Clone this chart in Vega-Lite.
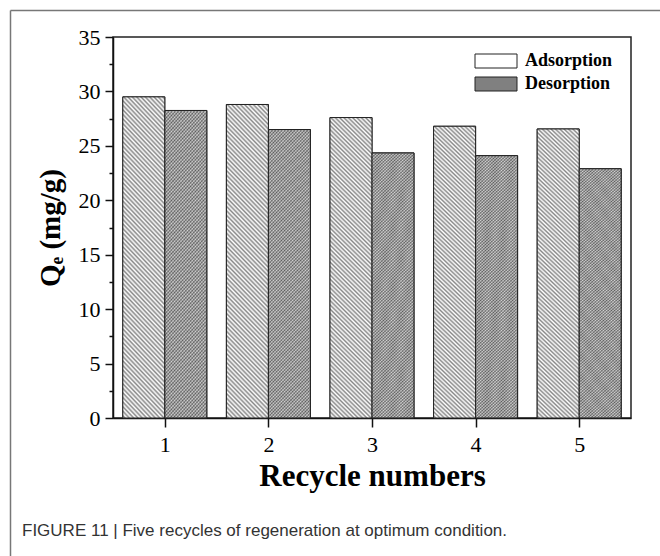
{
"$schema": "https://vega.github.io/schema/vega-lite/v6.json",
"autosize": {"type": "none"},
"padding": {"left": 113, "top": 37, "right": 29, "bottom": 138},
"width": 518,
"height": 381,
"background": "#ffffff",
"data": {"values": [
{"cycle":1,"series":"Adsorption","value":29.5},{"cycle":1,"series":"Desorption","value":28.25},
{"cycle":2,"series":"Adsorption","value":28.8},{"cycle":2,"series":"Desorption","value":26.5},
{"cycle":3,"series":"Adsorption","value":27.6},{"cycle":3,"series":"Desorption","value":24.35},
{"cycle":4,"series":"Adsorption","value":26.8},{"cycle":4,"series":"Desorption","value":24.1},
{"cycle":5,"series":"Adsorption","value":26.55},{"cycle":5,"series":"Desorption","value":22.9}
]},
"title": {"text": "FIGURE 11 | Five recycles of regeneration at optimum condition.", "orient": "bottom", "anchor": "start", "frame": "group", "dx": -91, "offset": -60, "baseline": "top", "align": "left", "font": "Liberation Sans", "fontSize": 17, "fontWeight": "normal", "color": "#333333"},
"layer": [
{
"encoding": {
"x": {"field": "cycle", "type": "ordinal", "scale": {"paddingInner": 0.189, "paddingOuter": 0.0946}, "axis": null},
"xOffset": {"field": "series", "type": "nominal", "scale": {"paddingInner": 0, "paddingOuter": 0}},
"y": {"field": "value", "type": "quantitative", "scale": {"domain": [0, 35], "nice": false, "zero": true},
"axis": {"values": [0,2.5,5,7.5,10,12.5,15,17.5,20,22.5,25,27.5,30,32.5,35], "labelExpr": "datum.value % 5 === 0 ? datum.label : ''", "tickSize": {"condition": {"test": "datum.value % 5 === 0", "value": 8}, "value": 4}, "labelPadding": 5, "labelFontSize": 22, "labelOverlap": false, "labelFlush": false, "title": "Qₑ (mg/g)", "titleFontSize": 29, "titleFontWeight": "bold", "titlePadding": 13}}
},
"layer": [
{"mark": {"type": "bar", "stroke": "#222222", "strokeWidth": 1},
"encoding": {"color": {"field": "series", "type": "nominal", "scale": {"domain": ["Adsorption", "Desorption"], "range": ["#ffffff", "#808080"]},
"legend": {"title": null, "orient": "none", "legendX": 374, "legendY": 15, "symbolType": "M-3,-1L3,-1L3,1L-3,1Z", "symbolSize": 196, "labelFont": "Liberation Serif", "labelFontWeight": "bold", "labelFontSize": 18, "labelColor": "#000000", "labelOffset": 20, "rowPadding": 5, "padding": 0, "symbolStrokeColor": "#222222", "symbolStrokeWidth": 1}}}},
{"transform": [{"filter": "datum.series === 'Adsorption'"}],
"mark": {"type": "bar", "stroke": "#222222", "strokeWidth": 1, "fill": {"gradient": "linear", "x1": 0, "y1": 1, "x2": 0.1538, "y2": -0.1166, "stops": [
{"offset":0,"color":"#fff"},{"offset":0.00625,"color":"#888"},{"offset":0.0125,"color":"#fff"},{"offset":0.01875,"color":"#888"},{"offset":0.025,"color":"#fff"},{"offset":0.03125,"color":"#888"},{"offset":0.0375,"color":"#fff"},{"offset":0.04375,"color":"#888"},
{"offset":0.05,"color":"#fff"},{"offset":0.05625,"color":"#888"},{"offset":0.0625,"color":"#fff"},{"offset":0.06875,"color":"#888"},{"offset":0.075,"color":"#fff"},{"offset":0.08125,"color":"#888"},{"offset":0.0875,"color":"#fff"},{"offset":0.09375,"color":"#888"},
{"offset":0.1,"color":"#fff"},{"offset":0.10625,"color":"#888"},{"offset":0.1125,"color":"#fff"},{"offset":0.11875,"color":"#888"},{"offset":0.125,"color":"#fff"},{"offset":0.13125,"color":"#888"},{"offset":0.1375,"color":"#fff"},{"offset":0.14375,"color":"#888"},
{"offset":0.15,"color":"#fff"},{"offset":0.15625,"color":"#888"},{"offset":0.1625,"color":"#fff"},{"offset":0.16875,"color":"#888"},{"offset":0.175,"color":"#fff"},{"offset":0.18125,"color":"#888"},{"offset":0.1875,"color":"#fff"},{"offset":0.19375,"color":"#888"},
{"offset":0.2,"color":"#fff"},{"offset":0.20625,"color":"#888"},{"offset":0.2125,"color":"#fff"},{"offset":0.21875,"color":"#888"},{"offset":0.225,"color":"#fff"},{"offset":0.23125,"color":"#888"},{"offset":0.2375,"color":"#fff"},{"offset":0.24375,"color":"#888"},
{"offset":0.25,"color":"#fff"},{"offset":0.25625,"color":"#888"},{"offset":0.2625,"color":"#fff"},{"offset":0.26875,"color":"#888"},{"offset":0.275,"color":"#fff"},{"offset":0.28125,"color":"#888"},{"offset":0.2875,"color":"#fff"},{"offset":0.29375,"color":"#888"},
{"offset":0.3,"color":"#fff"},{"offset":0.30625,"color":"#888"},{"offset":0.3125,"color":"#fff"},{"offset":0.31875,"color":"#888"},{"offset":0.325,"color":"#fff"},{"offset":0.33125,"color":"#888"},{"offset":0.3375,"color":"#fff"},{"offset":0.34375,"color":"#888"},
{"offset":0.35,"color":"#fff"},{"offset":0.35625,"color":"#888"},{"offset":0.3625,"color":"#fff"},{"offset":0.36875,"color":"#888"},{"offset":0.375,"color":"#fff"},{"offset":0.38125,"color":"#888"},{"offset":0.3875,"color":"#fff"},{"offset":0.39375,"color":"#888"},
{"offset":0.4,"color":"#fff"},{"offset":0.40625,"color":"#888"},{"offset":0.4125,"color":"#fff"},{"offset":0.41875,"color":"#888"},{"offset":0.425,"color":"#fff"},{"offset":0.43125,"color":"#888"},{"offset":0.4375,"color":"#fff"},{"offset":0.44375,"color":"#888"},
{"offset":0.45,"color":"#fff"},{"offset":0.45625,"color":"#888"},{"offset":0.4625,"color":"#fff"},{"offset":0.46875,"color":"#888"},{"offset":0.475,"color":"#fff"},{"offset":0.48125,"color":"#888"},{"offset":0.4875,"color":"#fff"},{"offset":0.49375,"color":"#888"},
{"offset":0.5,"color":"#fff"},{"offset":0.50625,"color":"#888"},{"offset":0.5125,"color":"#fff"},{"offset":0.51875,"color":"#888"},{"offset":0.525,"color":"#fff"},{"offset":0.53125,"color":"#888"},{"offset":0.5375,"color":"#fff"},{"offset":0.54375,"color":"#888"},
{"offset":0.55,"color":"#fff"},{"offset":0.55625,"color":"#888"},{"offset":0.5625,"color":"#fff"},{"offset":0.56875,"color":"#888"},{"offset":0.575,"color":"#fff"},{"offset":0.58125,"color":"#888"},{"offset":0.5875,"color":"#fff"},{"offset":0.59375,"color":"#888"},
{"offset":0.6,"color":"#fff"},{"offset":0.60625,"color":"#888"},{"offset":0.6125,"color":"#fff"},{"offset":0.61875,"color":"#888"},{"offset":0.625,"color":"#fff"},{"offset":0.63125,"color":"#888"},{"offset":0.6375,"color":"#fff"},{"offset":0.64375,"color":"#888"},
{"offset":0.65,"color":"#fff"},{"offset":0.65625,"color":"#888"},{"offset":0.6625,"color":"#fff"},{"offset":0.66875,"color":"#888"},{"offset":0.675,"color":"#fff"},{"offset":0.68125,"color":"#888"},{"offset":0.6875,"color":"#fff"},{"offset":0.69375,"color":"#888"},
{"offset":0.7,"color":"#fff"},{"offset":0.70625,"color":"#888"},{"offset":0.7125,"color":"#fff"},{"offset":0.71875,"color":"#888"},{"offset":0.725,"color":"#fff"},{"offset":0.73125,"color":"#888"},{"offset":0.7375,"color":"#fff"},{"offset":0.74375,"color":"#888"},
{"offset":0.75,"color":"#fff"},{"offset":0.75625,"color":"#888"},{"offset":0.7625,"color":"#fff"},{"offset":0.76875,"color":"#888"},{"offset":0.775,"color":"#fff"},{"offset":0.78125,"color":"#888"},{"offset":0.7875,"color":"#fff"},{"offset":0.79375,"color":"#888"},
{"offset":0.8,"color":"#fff"},{"offset":0.80625,"color":"#888"},{"offset":0.8125,"color":"#fff"},{"offset":0.81875,"color":"#888"},{"offset":0.825,"color":"#fff"},{"offset":0.83125,"color":"#888"},{"offset":0.8375,"color":"#fff"},{"offset":0.84375,"color":"#888"},
{"offset":0.85,"color":"#fff"},{"offset":0.85625,"color":"#888"},{"offset":0.8625,"color":"#fff"},{"offset":0.86875,"color":"#888"},{"offset":0.875,"color":"#fff"},{"offset":0.88125,"color":"#888"},{"offset":0.8875,"color":"#fff"},{"offset":0.89375,"color":"#888"},
{"offset":0.9,"color":"#fff"},{"offset":0.90625,"color":"#888"},{"offset":0.9125,"color":"#fff"},{"offset":0.91875,"color":"#888"},{"offset":0.925,"color":"#fff"},{"offset":0.93125,"color":"#888"},{"offset":0.9375,"color":"#fff"},{"offset":0.94375,"color":"#888"},
{"offset":0.95,"color":"#fff"},{"offset":0.95625,"color":"#888"},{"offset":0.9625,"color":"#fff"},{"offset":0.96875,"color":"#888"},{"offset":0.975,"color":"#fff"},{"offset":0.98125,"color":"#888"},{"offset":0.9875,"color":"#fff"},{"offset":0.99375,"color":"#888"},
{"offset":1,"color":"#fff"}
]}}},
{"transform": [{"filter": "datum.series === 'Desorption'"}],
"mark": {"type": "bar", "strokeOpacity": 0, "fillOpacity": 0.45, "fill": {"gradient": "linear", "x1": 0, "y1": 1, "x2": 0.17, "y2": -0.1254, "stops": [
{"offset":0,"color":"#fff"},{"offset":0.005,"color":"#444"},{"offset":0.01,"color":"#fff"},{"offset":0.015,"color":"#444"},{"offset":0.02,"color":"#fff"},{"offset":0.025,"color":"#444"},{"offset":0.03,"color":"#fff"},{"offset":0.035,"color":"#444"},{"offset":0.04,"color":"#fff"},{"offset":0.045,"color":"#444"},
{"offset":0.05,"color":"#fff"},{"offset":0.055,"color":"#444"},{"offset":0.06,"color":"#fff"},{"offset":0.065,"color":"#444"},{"offset":0.07,"color":"#fff"},{"offset":0.075,"color":"#444"},{"offset":0.08,"color":"#fff"},{"offset":0.085,"color":"#444"},{"offset":0.09,"color":"#fff"},{"offset":0.095,"color":"#444"},
{"offset":0.1,"color":"#fff"},{"offset":0.105,"color":"#444"},{"offset":0.11,"color":"#fff"},{"offset":0.115,"color":"#444"},{"offset":0.12,"color":"#fff"},{"offset":0.125,"color":"#444"},{"offset":0.13,"color":"#fff"},{"offset":0.135,"color":"#444"},{"offset":0.14,"color":"#fff"},{"offset":0.145,"color":"#444"},
{"offset":0.15,"color":"#fff"},{"offset":0.155,"color":"#444"},{"offset":0.16,"color":"#fff"},{"offset":0.165,"color":"#444"},{"offset":0.17,"color":"#fff"},{"offset":0.175,"color":"#444"},{"offset":0.18,"color":"#fff"},{"offset":0.185,"color":"#444"},{"offset":0.19,"color":"#fff"},{"offset":0.195,"color":"#444"},
{"offset":0.2,"color":"#fff"},{"offset":0.205,"color":"#444"},{"offset":0.21,"color":"#fff"},{"offset":0.215,"color":"#444"},{"offset":0.22,"color":"#fff"},{"offset":0.225,"color":"#444"},{"offset":0.23,"color":"#fff"},{"offset":0.235,"color":"#444"},{"offset":0.24,"color":"#fff"},{"offset":0.245,"color":"#444"},
{"offset":0.25,"color":"#fff"},{"offset":0.255,"color":"#444"},{"offset":0.26,"color":"#fff"},{"offset":0.265,"color":"#444"},{"offset":0.27,"color":"#fff"},{"offset":0.275,"color":"#444"},{"offset":0.28,"color":"#fff"},{"offset":0.285,"color":"#444"},{"offset":0.29,"color":"#fff"},{"offset":0.295,"color":"#444"},
{"offset":0.3,"color":"#fff"},{"offset":0.305,"color":"#444"},{"offset":0.31,"color":"#fff"},{"offset":0.315,"color":"#444"},{"offset":0.32,"color":"#fff"},{"offset":0.325,"color":"#444"},{"offset":0.33,"color":"#fff"},{"offset":0.335,"color":"#444"},{"offset":0.34,"color":"#fff"},{"offset":0.345,"color":"#444"},
{"offset":0.35,"color":"#fff"},{"offset":0.355,"color":"#444"},{"offset":0.36,"color":"#fff"},{"offset":0.365,"color":"#444"},{"offset":0.37,"color":"#fff"},{"offset":0.375,"color":"#444"},{"offset":0.38,"color":"#fff"},{"offset":0.385,"color":"#444"},{"offset":0.39,"color":"#fff"},{"offset":0.395,"color":"#444"},
{"offset":0.4,"color":"#fff"},{"offset":0.405,"color":"#444"},{"offset":0.41,"color":"#fff"},{"offset":0.415,"color":"#444"},{"offset":0.42,"color":"#fff"},{"offset":0.425,"color":"#444"},{"offset":0.43,"color":"#fff"},{"offset":0.435,"color":"#444"},{"offset":0.44,"color":"#fff"},{"offset":0.445,"color":"#444"},
{"offset":0.45,"color":"#fff"},{"offset":0.455,"color":"#444"},{"offset":0.46,"color":"#fff"},{"offset":0.465,"color":"#444"},{"offset":0.47,"color":"#fff"},{"offset":0.475,"color":"#444"},{"offset":0.48,"color":"#fff"},{"offset":0.485,"color":"#444"},{"offset":0.49,"color":"#fff"},{"offset":0.495,"color":"#444"},
{"offset":0.5,"color":"#fff"},{"offset":0.505,"color":"#444"},{"offset":0.51,"color":"#fff"},{"offset":0.515,"color":"#444"},{"offset":0.52,"color":"#fff"},{"offset":0.525,"color":"#444"},{"offset":0.53,"color":"#fff"},{"offset":0.535,"color":"#444"},{"offset":0.54,"color":"#fff"},{"offset":0.545,"color":"#444"},
{"offset":0.55,"color":"#fff"},{"offset":0.555,"color":"#444"},{"offset":0.56,"color":"#fff"},{"offset":0.565,"color":"#444"},{"offset":0.57,"color":"#fff"},{"offset":0.575,"color":"#444"},{"offset":0.58,"color":"#fff"},{"offset":0.585,"color":"#444"},{"offset":0.59,"color":"#fff"},{"offset":0.595,"color":"#444"},
{"offset":0.6,"color":"#fff"},{"offset":0.605,"color":"#444"},{"offset":0.61,"color":"#fff"},{"offset":0.615,"color":"#444"},{"offset":0.62,"color":"#fff"},{"offset":0.625,"color":"#444"},{"offset":0.63,"color":"#fff"},{"offset":0.635,"color":"#444"},{"offset":0.64,"color":"#fff"},{"offset":0.645,"color":"#444"},
{"offset":0.65,"color":"#fff"},{"offset":0.655,"color":"#444"},{"offset":0.66,"color":"#fff"},{"offset":0.665,"color":"#444"},{"offset":0.67,"color":"#fff"},{"offset":0.675,"color":"#444"},{"offset":0.68,"color":"#fff"},{"offset":0.685,"color":"#444"},{"offset":0.69,"color":"#fff"},{"offset":0.695,"color":"#444"},
{"offset":0.7,"color":"#fff"},{"offset":0.705,"color":"#444"},{"offset":0.71,"color":"#fff"},{"offset":0.715,"color":"#444"},{"offset":0.72,"color":"#fff"},{"offset":0.725,"color":"#444"},{"offset":0.73,"color":"#fff"},{"offset":0.735,"color":"#444"},{"offset":0.74,"color":"#fff"},{"offset":0.745,"color":"#444"},
{"offset":0.75,"color":"#fff"},{"offset":0.755,"color":"#444"},{"offset":0.76,"color":"#fff"},{"offset":0.765,"color":"#444"},{"offset":0.77,"color":"#fff"},{"offset":0.775,"color":"#444"},{"offset":0.78,"color":"#fff"},{"offset":0.785,"color":"#444"},{"offset":0.79,"color":"#fff"},{"offset":0.795,"color":"#444"},
{"offset":0.8,"color":"#fff"},{"offset":0.805,"color":"#444"},{"offset":0.81,"color":"#fff"},{"offset":0.815,"color":"#444"},{"offset":0.82,"color":"#fff"},{"offset":0.825,"color":"#444"},{"offset":0.83,"color":"#fff"},{"offset":0.835,"color":"#444"},{"offset":0.84,"color":"#fff"},{"offset":0.845,"color":"#444"},
{"offset":0.85,"color":"#fff"},{"offset":0.855,"color":"#444"},{"offset":0.86,"color":"#fff"},{"offset":0.865,"color":"#444"},{"offset":0.87,"color":"#fff"},{"offset":0.875,"color":"#444"},{"offset":0.88,"color":"#fff"},{"offset":0.885,"color":"#444"},{"offset":0.89,"color":"#fff"},{"offset":0.895,"color":"#444"},
{"offset":0.9,"color":"#fff"},{"offset":0.905,"color":"#444"},{"offset":0.91,"color":"#fff"},{"offset":0.915,"color":"#444"},{"offset":0.92,"color":"#fff"},{"offset":0.925,"color":"#444"},{"offset":0.93,"color":"#fff"},{"offset":0.935,"color":"#444"},{"offset":0.94,"color":"#fff"},{"offset":0.945,"color":"#444"},
{"offset":0.95,"color":"#fff"},{"offset":0.955,"color":"#444"},{"offset":0.96,"color":"#fff"},{"offset":0.965,"color":"#444"},{"offset":0.97,"color":"#fff"},{"offset":0.975,"color":"#444"},{"offset":0.98,"color":"#fff"},{"offset":0.985,"color":"#444"},{"offset":0.99,"color":"#fff"},{"offset":0.995,"color":"#444"},
{"offset":1,"color":"#fff"}
]}}},
{"transform": [{"filter": "datum.series === 'Desorption'"}],
"mark": {"type": "bar", "stroke": "#222222", "strokeWidth": 1, "strokeOpacity": 1, "fillOpacity": 0.45, "fill": {"gradient": "linear", "x1": 0, "y1": 0, "x2": 0.17, "y2": 1.1254, "stops": [
{"offset":0,"color":"#fff"},{"offset":0.005,"color":"#444"},{"offset":0.01,"color":"#fff"},{"offset":0.015,"color":"#444"},{"offset":0.02,"color":"#fff"},{"offset":0.025,"color":"#444"},{"offset":0.03,"color":"#fff"},{"offset":0.035,"color":"#444"},{"offset":0.04,"color":"#fff"},{"offset":0.045,"color":"#444"},
{"offset":0.05,"color":"#fff"},{"offset":0.055,"color":"#444"},{"offset":0.06,"color":"#fff"},{"offset":0.065,"color":"#444"},{"offset":0.07,"color":"#fff"},{"offset":0.075,"color":"#444"},{"offset":0.08,"color":"#fff"},{"offset":0.085,"color":"#444"},{"offset":0.09,"color":"#fff"},{"offset":0.095,"color":"#444"},
{"offset":0.1,"color":"#fff"},{"offset":0.105,"color":"#444"},{"offset":0.11,"color":"#fff"},{"offset":0.115,"color":"#444"},{"offset":0.12,"color":"#fff"},{"offset":0.125,"color":"#444"},{"offset":0.13,"color":"#fff"},{"offset":0.135,"color":"#444"},{"offset":0.14,"color":"#fff"},{"offset":0.145,"color":"#444"},
{"offset":0.15,"color":"#fff"},{"offset":0.155,"color":"#444"},{"offset":0.16,"color":"#fff"},{"offset":0.165,"color":"#444"},{"offset":0.17,"color":"#fff"},{"offset":0.175,"color":"#444"},{"offset":0.18,"color":"#fff"},{"offset":0.185,"color":"#444"},{"offset":0.19,"color":"#fff"},{"offset":0.195,"color":"#444"},
{"offset":0.2,"color":"#fff"},{"offset":0.205,"color":"#444"},{"offset":0.21,"color":"#fff"},{"offset":0.215,"color":"#444"},{"offset":0.22,"color":"#fff"},{"offset":0.225,"color":"#444"},{"offset":0.23,"color":"#fff"},{"offset":0.235,"color":"#444"},{"offset":0.24,"color":"#fff"},{"offset":0.245,"color":"#444"},
{"offset":0.25,"color":"#fff"},{"offset":0.255,"color":"#444"},{"offset":0.26,"color":"#fff"},{"offset":0.265,"color":"#444"},{"offset":0.27,"color":"#fff"},{"offset":0.275,"color":"#444"},{"offset":0.28,"color":"#fff"},{"offset":0.285,"color":"#444"},{"offset":0.29,"color":"#fff"},{"offset":0.295,"color":"#444"},
{"offset":0.3,"color":"#fff"},{"offset":0.305,"color":"#444"},{"offset":0.31,"color":"#fff"},{"offset":0.315,"color":"#444"},{"offset":0.32,"color":"#fff"},{"offset":0.325,"color":"#444"},{"offset":0.33,"color":"#fff"},{"offset":0.335,"color":"#444"},{"offset":0.34,"color":"#fff"},{"offset":0.345,"color":"#444"},
{"offset":0.35,"color":"#fff"},{"offset":0.355,"color":"#444"},{"offset":0.36,"color":"#fff"},{"offset":0.365,"color":"#444"},{"offset":0.37,"color":"#fff"},{"offset":0.375,"color":"#444"},{"offset":0.38,"color":"#fff"},{"offset":0.385,"color":"#444"},{"offset":0.39,"color":"#fff"},{"offset":0.395,"color":"#444"},
{"offset":0.4,"color":"#fff"},{"offset":0.405,"color":"#444"},{"offset":0.41,"color":"#fff"},{"offset":0.415,"color":"#444"},{"offset":0.42,"color":"#fff"},{"offset":0.425,"color":"#444"},{"offset":0.43,"color":"#fff"},{"offset":0.435,"color":"#444"},{"offset":0.44,"color":"#fff"},{"offset":0.445,"color":"#444"},
{"offset":0.45,"color":"#fff"},{"offset":0.455,"color":"#444"},{"offset":0.46,"color":"#fff"},{"offset":0.465,"color":"#444"},{"offset":0.47,"color":"#fff"},{"offset":0.475,"color":"#444"},{"offset":0.48,"color":"#fff"},{"offset":0.485,"color":"#444"},{"offset":0.49,"color":"#fff"},{"offset":0.495,"color":"#444"},
{"offset":0.5,"color":"#fff"},{"offset":0.505,"color":"#444"},{"offset":0.51,"color":"#fff"},{"offset":0.515,"color":"#444"},{"offset":0.52,"color":"#fff"},{"offset":0.525,"color":"#444"},{"offset":0.53,"color":"#fff"},{"offset":0.535,"color":"#444"},{"offset":0.54,"color":"#fff"},{"offset":0.545,"color":"#444"},
{"offset":0.55,"color":"#fff"},{"offset":0.555,"color":"#444"},{"offset":0.56,"color":"#fff"},{"offset":0.565,"color":"#444"},{"offset":0.57,"color":"#fff"},{"offset":0.575,"color":"#444"},{"offset":0.58,"color":"#fff"},{"offset":0.585,"color":"#444"},{"offset":0.59,"color":"#fff"},{"offset":0.595,"color":"#444"},
{"offset":0.6,"color":"#fff"},{"offset":0.605,"color":"#444"},{"offset":0.61,"color":"#fff"},{"offset":0.615,"color":"#444"},{"offset":0.62,"color":"#fff"},{"offset":0.625,"color":"#444"},{"offset":0.63,"color":"#fff"},{"offset":0.635,"color":"#444"},{"offset":0.64,"color":"#fff"},{"offset":0.645,"color":"#444"},
{"offset":0.65,"color":"#fff"},{"offset":0.655,"color":"#444"},{"offset":0.66,"color":"#fff"},{"offset":0.665,"color":"#444"},{"offset":0.67,"color":"#fff"},{"offset":0.675,"color":"#444"},{"offset":0.68,"color":"#fff"},{"offset":0.685,"color":"#444"},{"offset":0.69,"color":"#fff"},{"offset":0.695,"color":"#444"},
{"offset":0.7,"color":"#fff"},{"offset":0.705,"color":"#444"},{"offset":0.71,"color":"#fff"},{"offset":0.715,"color":"#444"},{"offset":0.72,"color":"#fff"},{"offset":0.725,"color":"#444"},{"offset":0.73,"color":"#fff"},{"offset":0.735,"color":"#444"},{"offset":0.74,"color":"#fff"},{"offset":0.745,"color":"#444"},
{"offset":0.75,"color":"#fff"},{"offset":0.755,"color":"#444"},{"offset":0.76,"color":"#fff"},{"offset":0.765,"color":"#444"},{"offset":0.77,"color":"#fff"},{"offset":0.775,"color":"#444"},{"offset":0.78,"color":"#fff"},{"offset":0.785,"color":"#444"},{"offset":0.79,"color":"#fff"},{"offset":0.795,"color":"#444"},
{"offset":0.8,"color":"#fff"},{"offset":0.805,"color":"#444"},{"offset":0.81,"color":"#fff"},{"offset":0.815,"color":"#444"},{"offset":0.82,"color":"#fff"},{"offset":0.825,"color":"#444"},{"offset":0.83,"color":"#fff"},{"offset":0.835,"color":"#444"},{"offset":0.84,"color":"#fff"},{"offset":0.845,"color":"#444"},
{"offset":0.85,"color":"#fff"},{"offset":0.855,"color":"#444"},{"offset":0.86,"color":"#fff"},{"offset":0.865,"color":"#444"},{"offset":0.87,"color":"#fff"},{"offset":0.875,"color":"#444"},{"offset":0.88,"color":"#fff"},{"offset":0.885,"color":"#444"},{"offset":0.89,"color":"#fff"},{"offset":0.895,"color":"#444"},
{"offset":0.9,"color":"#fff"},{"offset":0.905,"color":"#444"},{"offset":0.91,"color":"#fff"},{"offset":0.915,"color":"#444"},{"offset":0.92,"color":"#fff"},{"offset":0.925,"color":"#444"},{"offset":0.93,"color":"#fff"},{"offset":0.935,"color":"#444"},{"offset":0.94,"color":"#fff"},{"offset":0.945,"color":"#444"},
{"offset":0.95,"color":"#fff"},{"offset":0.955,"color":"#444"},{"offset":0.96,"color":"#fff"},{"offset":0.965,"color":"#444"},{"offset":0.97,"color":"#fff"},{"offset":0.975,"color":"#444"},{"offset":0.98,"color":"#fff"},{"offset":0.985,"color":"#444"},{"offset":0.99,"color":"#fff"},{"offset":0.995,"color":"#444"},
{"offset":1,"color":"#fff"}
]}}}
]
},
{
"mark": {"type": "point", "opacity": 0},
"encoding": {
"x": {"field": "cycle", "type": "quantitative", "scale": {"domain": [0.5, 5.5], "nice": false, "zero": false},
"axis": {"orient": "bottom", "values": [1,1.5,2,2.5,3,3.5,4,4.5,5], "format": "d", "labelExpr": "datum.value % 1 === 0 ? datum.label : ''", "tickSize": {"condition": {"test": "datum.value % 1 === 0", "value": 9}, "value": 4}, "labelPadding": 7, "labelFontSize": 22, "labelOverlap": false, "labelFlush": false, "title": "Recycle numbers", "titleFontSize": 31, "titleFontWeight": "bold", "titlePadding": 6}}
}
},
{
"mark": {"type": "point", "opacity": 0},
"encoding": {
"x": {"field": "cycle", "type": "quantitative", "scale": {"domain": [0.5, 5.5], "range": [-103, 547], "nice": false, "zero": false},
"axis": {"orient": "top", "offset": 27, "ticks": false, "labels": false, "title": null, "domainColor": "#777777", "domainWidth": 1.5}},
"y": {"field": "value", "type": "quantitative", "scale": {"domain": [0, 35], "range": [519, -27], "nice": false},
"axis": {"orient": "left", "offset": 103, "ticks": false, "labels": false, "title": null, "domainColor": "#777777", "domainWidth": 1.5}}
}
}
],
"resolve": {"scale": {"x": "independent", "y": "independent"}, "axis": {"x": "independent", "y": "independent"}},
"config": {
"view": {"stroke": "#222222", "strokeWidth": 1.5},
"axis": {"grid": false, "labelFont": "Liberation Serif", "titleFont": "Liberation Serif", "labelColor": "#000000", "titleColor": "#000000", "domainColor": "#111111", "tickColor": "#111111", "domainWidth": 1.5, "tickWidth": 1.5}
}
}
